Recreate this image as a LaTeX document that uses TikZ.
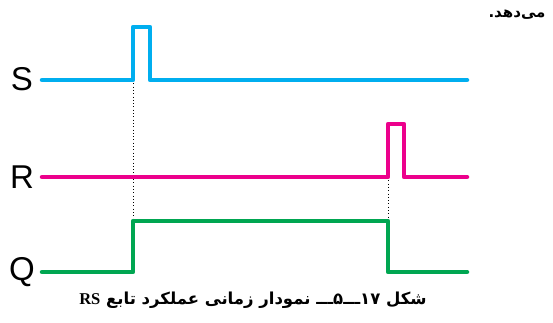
\documentclass[tikz,border=0pt]{standalone}
\usepackage{fontspec}
\setmainfont{Liberation Sans}
\newfontfamily\arabicfont[Script=Arabic,BoldFont={DejaVu Sans Bold}]{DejaVu Sans}
\newfontfamily\serifbold{Liberation Serif}
\TeXXeTstate=1
\definecolor{sigcyan}{RGB}{0,174,239}
\definecolor{sigmag}{RGB}{236,0,140}
\definecolor{siggreen}{RGB}{0,166,81}
\tikzset{
  signal/.style={line width=4.5pt, line join=round, line cap=round},
  guide/.style={line width=0.9pt, dash pattern=on 0.9pt off 2.4pt},
  siglabel/.style={font=\fontsize{33}{33}\selectfont, inner sep=0pt},
}
\begin{document}
\begin{tikzpicture}[x=1pt,y=-1pt]
\useasboundingbox (0,0) rectangle (553,322);
% labels
\node[siglabel] (lS) at (22,79) {S};
\node[siglabel] (lR) at (22,177) {R};
\node[siglabel] (lQ) at (22,272) {Q};
% key coordinates
\coordinate (s0) at (42,80);
\coordinate (s1) at (133,80);
\coordinate (s2) at (133,27);
\coordinate (s3) at (150,27);
\coordinate (s4) at (150,80);
\coordinate (s5) at (467,80);
\coordinate (r0) at (42,177);
\coordinate (r1) at (388,177);
\coordinate (r2) at (388,124);
\coordinate (r3) at (404,124);
\coordinate (r4) at (404,177);
\coordinate (r5) at (467,177);
\coordinate (q0) at (42,272);
\coordinate (q1) at (133,272);
\coordinate (q2) at (133,221);
\coordinate (q3) at (388,221);
\coordinate (q4) at (388,272);
\coordinate (q5) at (467,272);
% dotted guides
\draw[guide] (s1) -- (q2);
\draw[guide] (r1) -- (q3);
% signals
\draw[signal, sigcyan] (s0) -- (s1) -- (s2) -- (s3) -- (s4) -- (s5);
\draw[signal, sigmag] (r0) -- (r1) -- (r2) -- (r3) -- (r4) -- (r5);
\draw[signal, siggreen] (q0) -- (q1) -- (q2) -- (q3) -- (q4) -- (q5);
% caption
\node[inner sep=0pt] (cap) at (253,300) {\arabicfont\bfseries\fontsize{16.5}{16.5}\selectfont\beginR شکل \beginL ۱۷\endL ـــ\beginL ۵\endL ـــ نمودار زمانی عملکرد تابع \beginL{\serifbold\bfseries RS}\endL\endR};
\node[inner sep=0pt] (top) at (517,15) {\arabicfont\bfseries\fontsize{15}{15}\selectfont\beginR می‌دهد.\endR};
\end{tikzpicture}
\end{document}
